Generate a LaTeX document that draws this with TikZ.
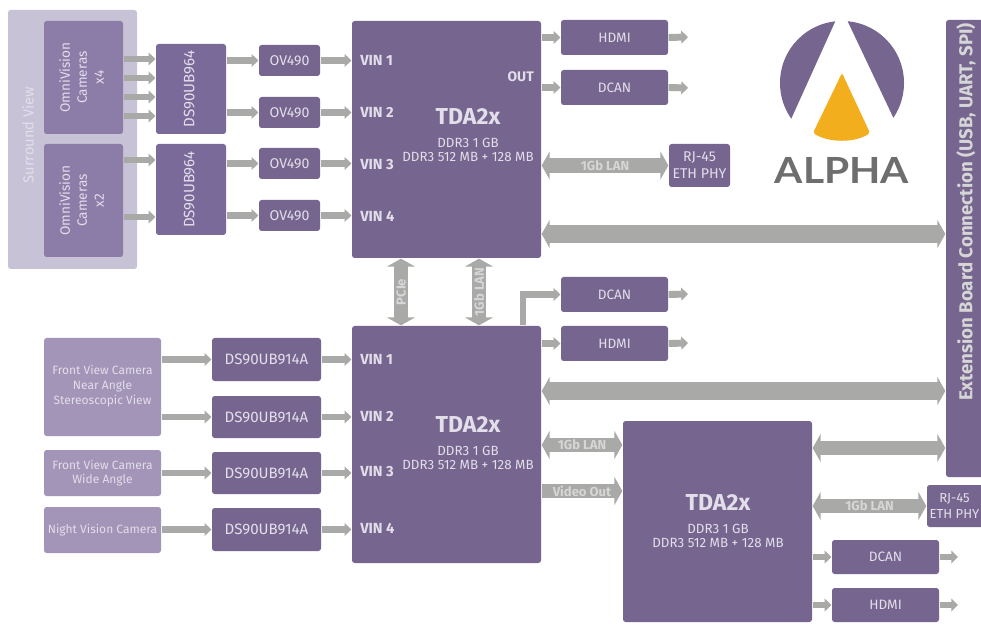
\documentclass[tikz,border=0pt]{standalone}
\usepackage{fontspec}
\setmainfont{Fira Sans}
\newfontfamily\logofont{Lato}
\usetikzlibrary{arrows.meta,calc}
\definecolor{pmain}{HTML}{76668F}
\definecolor{pser}{HTML}{7A6A99}
\definecolor{pcam}{HTML}{8C7CA8}
\definecolor{pfront}{HTML}{A295B8}
\definecolor{psurr}{HTML}{C8C2D6}
\definecolor{garr}{HTML}{A9A9A7}
\definecolor{txtl}{HTML}{E2DEEA}
\definecolor{txtg}{HTML}{D6D6D6}
\definecolor{logoy}{HTML}{F2AE1C}
\definecolor{logog}{HTML}{6E6E6E}
\newcommand\fs[2]{\fontsize{#1}{#2}\selectfont}
\newcommand\rt[1]{\rotatebox{90}{\begin{tabular}{@{}c@{}}#1\end{tabular}}}
\newcommand\bx[7]{%
  \pgfmathsetmacro\bw{(#5-#3)*0.75}\pgfmathsetmacro\bh{(#6-#4)*0.75}%
  \node[#1,minimum width=\bw pt,minimum height=\bh pt] (#2) at ({(#3+#5)/2},{(#4+#6)/2}) {#7};}
\tikzset{
  x=0.75pt,y=-0.75pt,
  boxbase/.style={rounded corners=2pt,inner sep=0pt,outer sep=0.5pt,align=center,text=txtl,font=\fs{10.2}{12.5}},
  mainbox/.style={boxbase,fill=pmain},
  dsbox/.style={boxbase,fill=pmain,font=\fs{11.3}{13}},
  rjbox/.style={boxbase,fill=pmain,font=\fs{10.6}{12.6}},
  serbox/.style={boxbase,fill=pser,font=\fs{11.3}{13}},
  cambox/.style={boxbase,fill=pcam,font=\fs{10.2}{12.7}},
  frontbox/.style={boxbase,fill=pfront,font=\fs{9}{11}},
  surrbox/.style={boxbase,fill=psurr},
  smallarr/.style={draw=garr,line width=5.2pt,-{Triangle[length=5pt,width=9.5pt]}},
  lanarr/.style={draw=garr,line width=11pt,{Triangle[length=6pt,width=21pt]}-{Triangle[length=6pt,width=21pt]}},
  busarr/.style={draw=garr,line width=13pt,{Triangle[length=6pt,width=21pt]}-{Triangle[length=6pt,width=21pt]}},
  vidarr/.style={draw=garr,line width=11pt,-{Triangle[length=6pt,width=21pt]}},
  vinlbl/.style={text=txtl,inner sep=0pt,font=\fs{11}{13}\bfseries,anchor=west},
  titlbl/.style={text=txtl,inner sep=0pt,font=\fs{17.3}{20}\bfseries},
  ddrlbl/.style={text=txtl,inner sep=0pt,align=center,font=\fs{10}{10.9}},
  arrlbl/.style={text=txtg,inner sep=0pt,font=\fs{9.8}{12}\bfseries},
}
\begin{document}
\begin{tikzpicture}
\clip (0,0) rectangle (981,641);
\fill[white] (0,0) rectangle (981,641);
% upper left group
\bx{surrbox}{surr}{8}{10}{137}{269}{}
\node[text=txtl,inner sep=0pt,font=\fs{11}{13}] (surrt) at (28,135) {\rotatebox{90}{Surround View}};
\bx{cambox}{cam4}{44}{21}{123}{134}{\rt{OmniVision\\Cameras\\x4}}
\bx{cambox}{cam2}{44}{144}{123}{257}{\rt{OmniVision\\Cameras\\x2}}
\bx{serbox}{ser1}{156}{44}{226}{134}{\rt{DS90UB964}}
\bx{serbox}{ser2}{156}{144}{226}{235}{\rt{DS90UB964}}
\bx{rjbox}{ov1}{259}{45}{320}{76}{OV490}
\bx{rjbox}{ov2}{259}{97}{320}{128}{OV490}
\bx{rjbox}{ov3}{259}{148}{320}{179}{OV490}
\bx{rjbox}{ov4}{259}{200}{320}{231}{OV490}
% processors
\bx{mainbox}{tdaa}{352}{21}{541}{258}{}
\bx{mainbox}{tdab}{352}{326}{541}{563}{}
\bx{mainbox}{tdac}{623}{421}{812}{622}{}
\node[titlbl] (tdaat) at (468,117) {TDA2x};
\node[ddrlbl] (tdaad) at (468,150) {DDR3 1 GB\\DDR3 512 MB + 128 MB};
\node[titlbl] (tdabt) at (468,425) {TDA2x};
\node[ddrlbl] (tdabd) at (468,458) {DDR3 1 GB\\DDR3 512 MB + 128 MB};
\node[titlbl] (tdact) at (718,503) {TDA2x};
\node[ddrlbl] (tdacd) at (718,536) {DDR3 1 GB\\DDR3 512 MB + 128 MB};
\node[vinlbl] (va1) at (360,60) {VIN 1};
\node[vinlbl] (va2) at (360,112) {VIN 2};
\node[vinlbl] (va3) at (360,165) {VIN 3};
\node[vinlbl] (va4) at (360,216) {VIN 4};
\node[vinlbl] (vb1) at (360,359) {VIN 1};
\node[vinlbl] (vb2) at (360,416) {VIN 2};
\node[vinlbl] (vb3) at (360,472) {VIN 3};
\node[vinlbl] (vb4) at (360,528) {VIN 4};
\node[vinlbl,anchor=east,font=\fs{10.4}{12}\bfseries] (outl) at (534,77) {OUT};
% peripheral boxes
\bx{mainbox}{hdmia}{561}{20}{668}{55}{HDMI}
\bx{mainbox}{dcana}{561}{70}{668}{105}{DCAN}
\bx{rjbox}{rja}{669}{144}{730}{187}{RJ-45\\ETH PHY}
\bx{mainbox}{dcanb}{561}{277}{668}{312}{DCAN}
\bx{mainbox}{hdmib}{561}{326}{668}{361}{HDMI}
\bx{mainbox}{rjc}{927}{485}{992}{527}{}
\node[text=txtl,inner sep=0pt,align=center,font=\fs{9.8}{12.6}] (rjct) at (954.5,506) {RJ-45\\ETH PHY};
\bx{mainbox}{dcanc}{832}{540}{939}{574}{DCAN}
\bx{mainbox}{hdmic}{832}{588}{939}{622}{HDMI}
\bx{mainbox}{ext}{946}{20}{995}{477}{}
\node[inner sep=0pt,text=txtg,font=\fs{14}{16}\bfseries] (extt) at (966,212) {\rotatebox{90}{Extension Board Connection (USB, UART, SPI)}};
% lower-left
\bx{frontbox}{fnear}{44}{338}{161}{436}{}
\node[text=txtl,inner sep=0pt,align=center,font=\fs{9}{11}] (fneart) at (102.5,386) {Front View Camera\\Near Angle\\Stereoscopic View};
\bx{frontbox}{fwide}{44}{450}{161}{496}{Front View Camera\\Wide Angle}
\bx{frontbox}{night}{44}{507}{161}{553}{Night Vision Camera}
\bx{dsbox}{dsa}{212}{338}{321}{381}{DS90UB914A}
\bx{dsbox}{dsb}{212}{396}{321}{438}{DS90UB914A}
\bx{dsbox}{dsc}{212}{452}{321}{494}{DS90UB914A}
\bx{dsbox}{dsd}{212}{508}{321}{551}{DS90UB914A}
% free arrow ends
\coordinate (endha) at (688,37);
\coordinate (endda) at (688,88);
\coordinate (enddb) at (688,294);
\coordinate (endhb) at (688,343);
\coordinate (enddc) at (958,557);
\coordinate (endhc) at (958,605);
% upper-left arrows
\draw[smallarr] (cam4.east |- 0,59) -- (ser1.west |- 0,59);
\draw[smallarr] (cam4.east |- 0,78) -- (ser1.west |- 0,78);
\draw[smallarr] (cam4.east |- 0,97) -- (ser1.west |- 0,97);
\draw[smallarr] (cam4.east |- 0,116) -- (ser1.west |- 0,116);
\draw[smallarr] (cam2.east |- 0,160) -- (ser2.west |- 0,160);
\draw[smallarr] (cam2.east |- 0,217) -- (ser2.west |- 0,217);
\draw[smallarr] (ser1.east |- ov1.west) -- (ov1.west);
\draw[smallarr] (ser1.east |- ov2.west) -- (ov2.west);
\draw[smallarr] (ser2.east |- ov3.west) -- (ov3.west);
\draw[smallarr] (ser2.east |- ov4.west) -- (ov4.west);
\draw[smallarr] (ov1.east) -- (tdaa.west |- ov1.east);
\draw[smallarr] (ov2.east) -- (tdaa.west |- ov2.east);
\draw[smallarr] (ov3.east) -- (tdaa.west |- ov3.east);
\draw[smallarr] (ov4.east) -- (tdaa.west |- ov4.east);
% outputs
\draw[smallarr] (tdaa.east |- hdmia.west) -- (hdmia.west);
\draw[smallarr] (tdaa.east |- dcana.west) -- (dcana.west);
\draw[smallarr] (hdmia.east) -- (endha);
\draw[smallarr] (dcana.east) -- (endda);
\draw[smallarr] (dcanb.east) -- (enddb);
\draw[smallarr] (hdmib.east) -- (endhb);
\draw[smallarr] (tdab.east |- hdmib.west) -- (hdmib.west);
\draw[smallarr] (tdab.north -| 523,0) |- (dcanb.west);
\draw[smallarr] (tdac.east |- dcanc.west) -- (dcanc.west);
\draw[smallarr] (tdac.east |- hdmic.west) -- (hdmic.west);
\draw[smallarr] (dcanc.east) -- (enddc);
\draw[smallarr] (hdmic.east) -- (endhc);
% LAN and bus arrows
\draw[lanarr] (tdaa.east |- rja.west) -- node[arrlbl] (lana) {1Gb LAN} (rja.west);
\draw[busarr] (tdaa.east |- 0,234) -- (ext.west |- 0,234);
\draw[busarr] (tdab.east |- 0,391) -- (ext.west |- 0,391);
\draw[lanarr] (tdab.east |- 0,445) -- node[arrlbl] (lanb) {1Gb LAN} (tdac.west |- 0,445);
\draw[vidarr] (tdab.east |- 0,491) -- node[arrlbl] (vid) {Video Out} (tdac.west |- 0,491);
\draw[lanarr] (tdac.east |- 0,448) -- (ext.west |- 0,448);
\draw[lanarr] (tdac.east |- rjc.west) -- node[arrlbl] (lanc) {1Gb LAN} (rjc.west);
\draw[lanarr] (tdaa.south -| 401,0) -- node[arrlbl] (pcie) {\rotatebox{90}{PCIe}} (tdab.north -| 401,0);
\draw[lanarr] (tdaa.south -| 479,0) -- node[arrlbl] (lanv) {\rotatebox{90}{1Gb LAN}} (tdab.north -| 479,0);
% lower-left arrows
\draw[smallarr] (fnear.east |- dsa.west) -- (dsa.west);
\draw[smallarr] (fnear.east |- dsb.west) -- (dsb.west);
\draw[smallarr] (fwide.east |- dsc.west) -- (dsc.west);
\draw[smallarr] (night.east |- dsd.west) -- (dsd.west);
\draw[smallarr] (dsa.east) -- (tdab.west |- dsa.east);
\draw[smallarr] (dsb.east) -- (tdab.west |- dsb.east);
\draw[smallarr] (dsc.east) -- (tdab.west |- dsc.east);
\draw[smallarr] (dsd.east) -- (tdab.west |- dsd.east);
% logo
\begin{scope}
\clip (842,83) circle[radius=62];
\fill[pmain] (844,2) -- (783,137) -- (770,137) -- (770,2) -- cycle;
\fill[pmain] (838.5,2) -- (902.5,137) -- (915,137) -- (915,2) -- cycle;
\end{scope}
\fill[logoy,rounded corners=1.5pt] (842,73) -- (870,133) .. controls (855,143) and (829,143) .. (813,133) -- cycle;
\node[inner sep=0pt,text=logog,font=\logofont\fs{27}{30}\bfseries] (alpha) at (842,170) {\scalebox{1.13}[1]{ALPHA}};
\end{tikzpicture}
\end{document}
